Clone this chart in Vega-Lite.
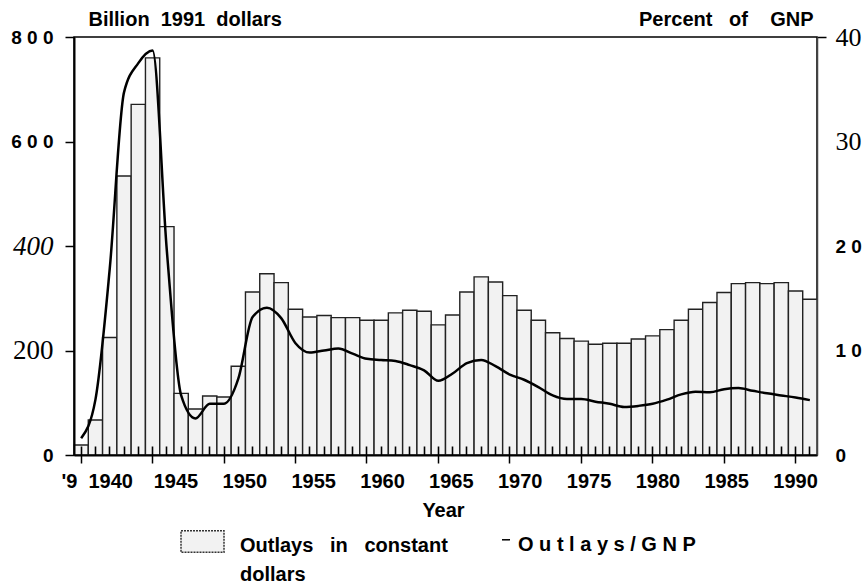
{
  "$schema": "https://vega.github.io/schema/vega-lite/v6.json",
  "width": 743,
  "height": 418,
  "autosize": "none",
  "padding": {"left": 74, "top": 37, "right": 48, "bottom": 133},
  "background": "white",
  "config": {
    "view": {"stroke": "black", "strokeWidth": 1.5},
    "style": {"guide-label": {"lineHeight": 29}},
    "axis": {"grid": false}
  },
  "data": {
    "values": [
      {"year": 1940, "outlays": 19, "pct": 1.6},
      {"year": 1941, "outlays": 67, "pct": 5.3},
      {"year": 1942, "outlays": 225, "pct": 17.8},
      {"year": 1943, "outlays": 534, "pct": 34.7},
      {"year": 1944, "outlays": 671, "pct": 37.5},
      {"year": 1945, "outlays": 760, "pct": 38.7},
      {"year": 1946, "outlays": 437, "pct": 19.5},
      {"year": 1947, "outlays": 118, "pct": 5.7},
      {"year": 1948, "outlays": 88, "pct": 3.5},
      {"year": 1949, "outlays": 113, "pct": 4.9},
      {"year": 1950, "outlays": 111, "pct": 4.9},
      {"year": 1951, "outlays": 170, "pct": 7.3},
      {"year": 1952, "outlays": 312, "pct": 13.2},
      {"year": 1953, "outlays": 347, "pct": 14.1},
      {"year": 1954, "outlays": 330, "pct": 13.1},
      {"year": 1955, "outlays": 279, "pct": 10.7},
      {"year": 1956, "outlays": 264, "pct": 9.8},
      {"year": 1957, "outlays": 267, "pct": 10.0},
      {"year": 1958, "outlays": 263, "pct": 10.2},
      {"year": 1959, "outlays": 263, "pct": 9.7},
      {"year": 1960, "outlays": 258, "pct": 9.2},
      {"year": 1961, "outlays": 258, "pct": 9.1},
      {"year": 1962, "outlays": 272, "pct": 9.0},
      {"year": 1963, "outlays": 277, "pct": 8.6},
      {"year": 1964, "outlays": 275, "pct": 8.1},
      {"year": 1965, "outlays": 249, "pct": 7.1},
      {"year": 1966, "outlays": 268, "pct": 7.8},
      {"year": 1967, "outlays": 312, "pct": 8.8},
      {"year": 1968, "outlays": 341, "pct": 9.1},
      {"year": 1969, "outlays": 331, "pct": 8.5},
      {"year": 1970, "outlays": 305, "pct": 7.7},
      {"year": 1971, "outlays": 277, "pct": 7.2},
      {"year": 1972, "outlays": 258, "pct": 6.5},
      {"year": 1973, "outlays": 234, "pct": 5.7},
      {"year": 1974, "outlays": 223, "pct": 5.35},
      {"year": 1975, "outlays": 218, "pct": 5.35},
      {"year": 1976, "outlays": 212, "pct": 5.1},
      {"year": 1977, "outlays": 214, "pct": 4.9},
      {"year": 1978, "outlays": 214, "pct": 4.6},
      {"year": 1979, "outlays": 222, "pct": 4.7},
      {"year": 1980, "outlays": 228, "pct": 4.9},
      {"year": 1981, "outlays": 240, "pct": 5.3},
      {"year": 1982, "outlays": 258, "pct": 5.8},
      {"year": 1983, "outlays": 279, "pct": 6.05},
      {"year": 1984, "outlays": 292, "pct": 6.0},
      {"year": 1985, "outlays": 311, "pct": 6.3},
      {"year": 1986, "outlays": 328, "pct": 6.4},
      {"year": 1987, "outlays": 330, "pct": 6.15},
      {"year": 1988, "outlays": 328, "pct": 5.9},
      {"year": 1989, "outlays": 330, "pct": 5.7},
      {"year": 1990, "outlays": 314, "pct": 5.5},
      {"year": 1991, "outlays": 298, "pct": 5.25}
    ]
  },
  "layer": [
    {
      "mark": {"type": "bar", "stroke": "#222", "strokeWidth": 1.4},
      "encoding": {
        "x": {
          "field": "year",
          "type": "ordinal",
          "scale": {"paddingInner": 0, "paddingOuter": 0},
          "axis": {
            "orient": "bottom",
            "values": [1940, 1945, 1950, 1955, 1960, 1965, 1970, 1975, 1980, 1985, 1990],
            "title": "Year",
            "titleFont": "Liberation Sans",
            "titleFontSize": 20,
            "titleFontWeight": "bold",
            "titleColor": "black",
            "titleX": 369,
            "titleY": 61,
            "titleBaseline": "alphabetic",
            "labelAngle": 0,
            "labelFont": "Liberation Sans",
            "labelFontSize": 20,
            "labelFontWeight": "bold",
            "labelColor": "black",
            "labelBaseline": "top",
            "labelPadding": 8,
            "labelOverlap": false,
            "labelFlush": false,
            "labelExpr": "datum.value == 1940 ? \"'9\u00a0 1940\" : datum.label",
            "labelOffset": {"expr": "datum.value == 1940 ? 16 : 26 - (datum.value - 1940) * 0.52"},
            "tickSize": 8,
            "tickColor": "black",
            "tickWidth": 1.5,
            "domainColor": "black",
            "domainWidth": 2,
            "bandPosition": 0.5,
            "zindex": 1
          }
        },
        "y": {
          "field": "outlays",
          "type": "quantitative",
          "scale": {"domain": [0, 800], "nice": false},
          "axis": {
            "orient": "left",
            "values": [0, 200, 400, 600, 800],
            "title": "Billion\u00a0 1991\u00a0 dollars",
            "titleAngle": 0,
            "titleAlign": "left",
            "titleBaseline": "alphabetic",
            "titleX": 14,
            "titleY": -12,
            "titleFont": "Liberation Sans",
            "titleFontSize": 20,
            "titleFontWeight": "bold",
            "titleColor": "black",
            "domainColor": "black",
            "domainWidth": 2,
            "tickSize": 9,
            "tickColor": "black",
            "tickWidth": 1.5,
            "labelPadding": 12,
            "labelColor": "black",
            "labelBaseline": "middle",
            "labelFlush": false,
            "labelExpr": "datum.value == 800 ? '8 0 0' : datum.value == 600 ? '6 0 0' : datum.label",
            "labelFont": {"condition": {"test": "datum.value == 400 || datum.value == 200", "value": "Liberation Serif"}, "value": "Liberation Sans"},
            "labelFontSize": {"condition": {"test": "datum.value == 400 || datum.value == 200", "value": 27}, "value": 19},
            "labelFontStyle": {"condition": {"test": "datum.value == 400", "value": "italic"}, "value": "normal"},
            "labelFontWeight": {"condition": {"test": "datum.value == 400 || datum.value == 200", "value": "normal"}, "value": "bold"},
            "zindex": 1
          }
        },
        "fill": {
          "datum": "Outlays in constant dollars",
          "scale": {"range": ["#f2f2f2"]},
          "legend": {
            "orient": "none",
            "legendX": 106,
            "legendY": 476,
            "title": null,
            "padding": 0,
            "symbolType": "M-1,-0.22H1V0.78H-1Z",
            "symbolSize": 1849,
            "symbolStrokeColor": "#333",
            "symbolStrokeWidth": 1.5,
            "symbolDash": [2, 1],
            "labelOffset": 15,
            "labelFont": "Liberation Sans",
            "labelFontSize": 20,
            "labelFontWeight": "bold",
            "labelColor": "black",
            "labelLimit": 0,
            "labelBaseline": "top",
            "labelExpr": "['Outlays\u00a0\u00a0 in\u00a0\u00a0 constant', 'dollars']"
          }
        }
      }
    },
    {
      "mark": {"type": "line", "interpolate": "monotone", "strokeWidth": 2.5},
      "encoding": {
        "x": {
          "field": "year",
          "type": "ordinal",
          "axis": {
            "orient": "top",
            "offset": -418,
            "title": null,
            "domain": false,
            "labels": false,
            "ticks": true,
            "tickSize": 9,
            "tickColor": "black",
            "tickWidth": 1.6,
            "bandPosition": 0.5,
            "zindex": 2
          }
        },
        "y": {
          "field": "pct",
          "type": "quantitative",
          "scale": {"domain": [0, 40], "nice": false},
          "axis": {
            "orient": "right",
            "values": [0, 10, 20, 30, 40],
            "title": "Percent\u00a0\u00a0 of\u00a0\u00a0\u00a0 GNP",
            "titleAngle": 0,
            "titleAlign": "right",
            "titleBaseline": "alphabetic",
            "titleX": -4,
            "titleY": -12,
            "titleFont": "Liberation Sans",
            "titleFontSize": 20,
            "titleFontWeight": "bold",
            "titleColor": "black",
            "domainColor": "#444",
            "domainWidth": 1.5,
            "tickSize": 9,
            "tickColor": "black",
            "tickWidth": 1.5,
            "tickOpacity": {"condition": {"test": "datum.value == 40", "value": 1}, "value": 0},
            "labelPadding": 9,
            "labelColor": "black",
            "labelBaseline": "middle",
            "labelFlush": false,
            "labelExpr": "datum.value == 20 ? '2 0' : datum.value == 10 ? '1 0' : datum.label",
            "labelFont": {"condition": {"test": "datum.value == 40 || datum.value == 30", "value": "Liberation Serif"}, "value": "Liberation Sans"},
            "labelFontSize": {"condition": {"test": "datum.value == 40 || datum.value == 30", "value": 26}, "value": 19},
            "labelFontWeight": {"condition": {"test": "datum.value == 40 || datum.value == 30", "value": "normal"}, "value": "bold"},
            "zindex": 1
          }
        },
        "stroke": {
          "datum": "Outlays/GNP",
          "scale": {"range": ["black"]},
          "legend": {
            "orient": "none",
            "legendX": 422,
            "legendY": 498,
            "title": null,
            "padding": 0,
            "symbolType": "M-1,-1.3H1",
            "symbolSize": 64,
            "symbolStrokeWidth": 1.5,
            "labelOffset": 2,
            "labelFont": "Liberation Sans",
            "labelFontSize": 20,
            "labelFontWeight": "bold",
            "labelColor": "black",
            "labelLimit": 0,
            "labelExpr": "'O u t l a y s / G N P'"
          }
        }
      }
    }
  ],
  "resolve": {"scale": {"y": "independent"}, "axis": {"x": "independent", "y": "independent"}}
}
